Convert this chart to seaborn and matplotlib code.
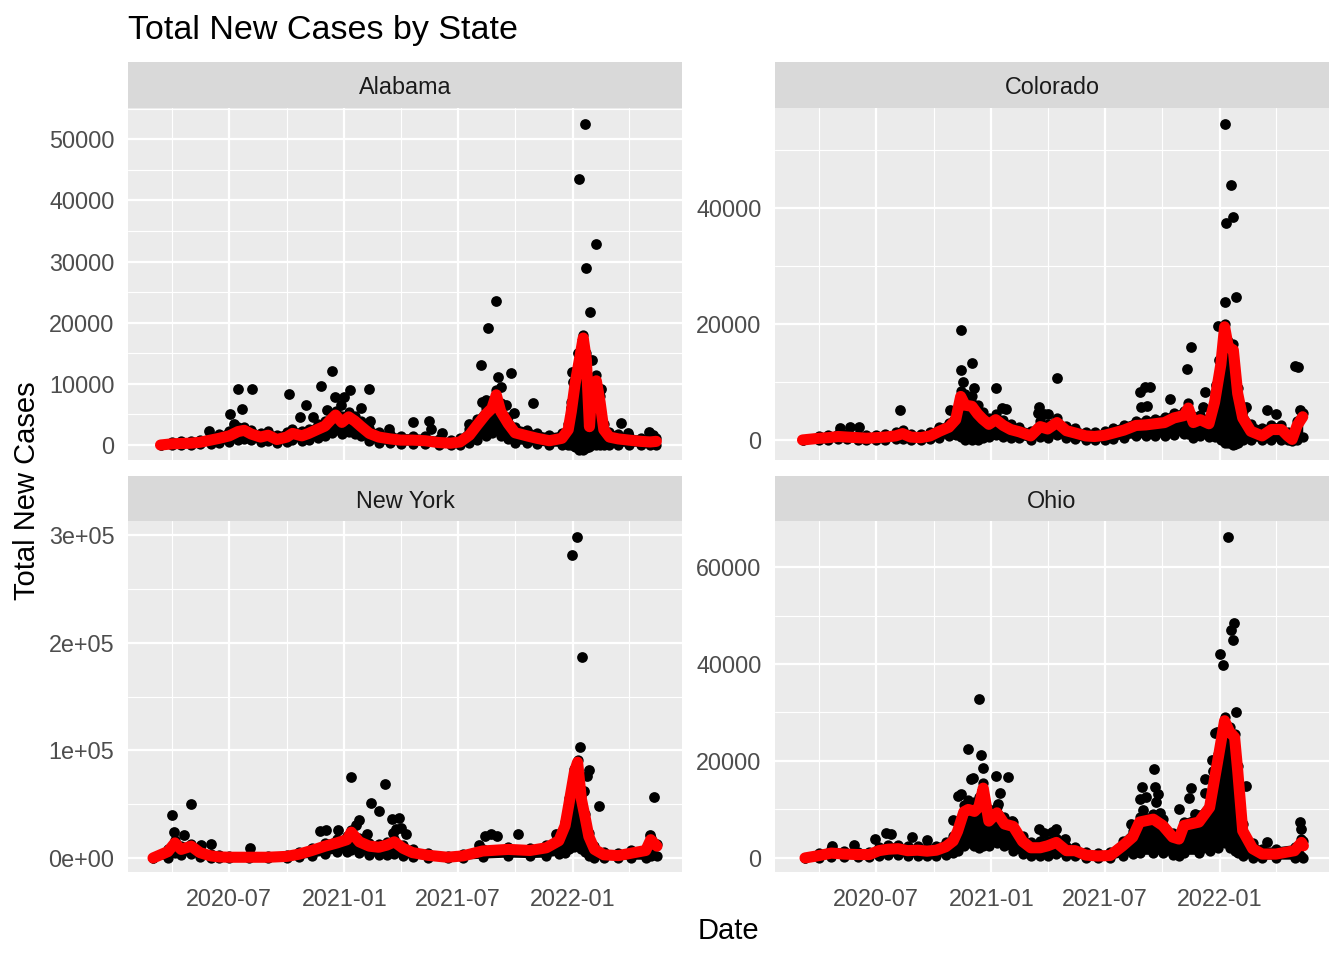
import numpy as np
import pandas as pd
import matplotlib
matplotlib.use("Agg")
import matplotlib.pyplot as plt
import matplotlib.dates as mdates
from matplotlib.ticker import FixedLocator, FixedFormatter
import seaborn as sns

# ---------------- data ----------------
# Alabama: smoothed (red) curve with the extent of the dense black cloud
al_dates = ["2020-03-13","2020-04-01","2020-04-15","2020-05-01","2020-05-15","2020-06-01","2020-06-15","2020-07-01","2020-07-15","2020-07-25",
            "2020-08-05","2020-08-20","2020-09-01","2020-09-15","2020-10-01","2020-10-10","2020-10-25","2020-11-05","2020-11-20","2020-12-01",
            "2020-12-12","2020-12-18","2020-12-28","2021-01-08","2021-01-18","2021-01-28","2021-02-10","2021-02-25","2021-03-15","2021-04-01",
            "2021-04-20","2021-05-10","2021-06-01","2021-06-20","2021-07-05","2021-07-20","2021-08-01","2021-08-15","2021-08-25","2021-09-01",
            "2021-09-08","2021-09-20","2021-10-01","2021-10-20","2021-11-05","2021-11-25","2021-12-15","2021-12-25","2021-12-30","2022-01-05",
            "2022-01-12","2022-01-18","2022-01-23","2022-01-28","2022-02-01","2022-02-08","2022-02-14","2022-02-20","2022-03-01","2022-03-15",
            "2022-04-01","2022-04-20","2022-05-05","2022-05-15"]
al_red = [0,200,250,300,450,800,1100,1500,2200,2400, 1800,1300,1600,900,1300,1900,1500,1900,2600,3100,
          4300,4900,3700,4600,3900,3000,1900,1300,1000,800, 800,700,400,300,500,1600,3200,5000,6000,8200,
          5500,3500,2000,1500,1100,700,1100,2500,5500,10000, 14000,17500,14000,3000,9500,10500,7000,2500,1300,1000,
          800,600,500,600]
al_lo = [0,0,0,0,100,200,300,500,900,1000, 800,500,600,300,500,800,700,800,1200,1500,
         2000,2500,1800,2200,1800,1400,700,400,300,200, 200,100,0,0,0,400,900,1500,2000,2500,
         1500,1000,400,300,200,0,0,0,0,-300, -800,-800,-500,-300,0,0,0,0,0,0,
         0,0,0,0]
al_hi = [0,500,600,700,900,1500,1800,2300,3000,3000, 2500,2000,2300,1700,2200,2600,2300,2700,3400,4000,
         5000,5600,4800,5400,4800,3900,2800,2100,1800,1500, 1500,1400,1000,800,1100,2600,4200,6000,7000,9000,
         6800,4600,3000,2500,2000,1600,1900,3500,7000,11500, 15000,18000,15000,3500,11000,11500,8000,3500,2200,1800,
         1500,1200,1200,1200]
al_out_dates = ["2020-05-30","2020-07-02","2020-07-08","2020-07-15","2020-07-21","2020-08-07","2020-10-04","2020-10-22","2020-10-31","2020-11-12",
                "2020-11-25","2020-12-04","2020-12-13","2020-12-17","2020-12-27","2021-01-01","2021-01-10","2021-01-27","2021-02-10","2021-02-11",
                "2021-03-14","2021-04-21","2021-05-16","2021-05-19","2021-06-06","2021-07-20","2021-08-07","2021-08-09","2021-08-16","2021-08-18",
                "2021-09-01","2021-09-03","2021-09-08","2021-09-17","2021-09-24","2021-09-29","2021-10-30","2021-12-29","2021-12-31","2022-01-02",
                "2022-01-09","2022-01-11","2022-01-21","2022-01-23","2022-01-29","2022-02-01","2022-02-08","2022-02-15","2022-03-20","2022-03-31",
                "2022-05-03","2022-05-10"]
al_out_vals = [2300,5000,3400,9200,5900,9200,8400,4500,6600,4500,
               9700,5800,12100,7900,6500,7900,9000,6000,9200,4000,
               2700,3700,4000,2700,1900,3500,13100,7000,7400,19100,
               23600,11200,9500,6600,11800,5300,6900,6000,12000,10300,
               15100,43500,52500,29000,21800,13900,32800,9100,3600,1900,
               2100,1700]

# Colorado
co_dates = ["2020-03-05","2020-04-01","2020-04-15","2020-05-01","2020-05-15","2020-06-01","2020-06-15","2020-07-01","2020-07-15","2020-08-01",
            "2020-08-12","2020-08-25","2020-09-10","2020-09-25","2020-10-10","2020-10-25","2020-11-05","2020-11-13","2020-11-20","2020-12-01",
            "2020-12-10","2020-12-18","2020-12-28","2021-01-08","2021-01-20","2021-02-01","2021-02-15","2021-03-05","2021-03-20","2021-04-01",
            "2021-04-16","2021-05-01","2021-05-15","2021-06-01","2021-06-15","2021-07-01","2021-07-15","2021-08-01","2021-08-20","2021-09-05",
            "2021-09-20","2021-10-05","2021-10-20","2021-11-05","2021-11-12","2021-11-20","2021-12-01","2021-12-15","2021-12-24","2022-01-03",
            "2022-01-09","2022-01-15","2022-01-23","2022-01-30","2022-02-07","2022-02-20","2022-03-10","2022-03-25","2022-04-10","2022-04-20",
            "2022-04-27","2022-05-05","2022-05-14"]
co_red = [0,300,400,600,500,400,300,400,500,700, 1100,500,400,700,1500,2200,3500,7500,6000,5800,
          4500,3600,2700,3500,2500,1800,1400,700,2300,1900, 3000,1600,1200,700,600,800,1200,1700,2500,2600,
          2800,3000,3800,4200,5500,3000,3500,2800,6500,13000, 19500,16000,15500,8000,3800,1500,700,1800,1800,700,
          100,2500,4000]
co_lo = [0,0,0,100,100,0,0,0,0,100, 200,0,0,100,400,600,800,500,0,0,
         0,300,500,800,500,400,300,0,500,300, 800,300,200,0,0,0,200,400,600,600,
         700,700,900,1000,1000,300,700,500,500,0, -500,-500,-800,-500,0,0,0,0,0,0,
         -200,0,500]
co_hi = [0,700,800,1100,1000,900,800,900,1000,1300, 1700,1100,1000,1400,2200,3000,4800,8500,8000,7500,
         6000,4800,3800,4500,3500,2700,2200,1500,3200,2800, 3800,2400,2000,1400,1300,1500,2000,2600,3300,3500,
         3700,4000,4600,5000,6300,4200,4300,3800,7500,14000, 20000,17000,16500,9000,5000,2800,2000,2600,2600,1300,
         700,3200,4600]
co_out_dates = ["2020-05-04","2020-05-20","2020-06-04","2020-08-08","2020-10-27","2020-11-13","2020-11-14","2020-11-17","2020-12-01","2020-12-04",
                "2021-01-08","2021-01-18","2021-01-24","2021-03-17","2021-03-18","2021-03-27","2021-04-02","2021-04-16","2021-08-27","2021-08-28",
                "2021-09-03","2021-09-07","2021-09-11","2021-10-14","2021-11-10","2021-11-17","2021-12-05","2021-12-09","2021-12-27","2021-12-30",
                "2021-12-31","2022-01-09","2022-01-10","2022-01-11","2022-01-19","2022-01-22","2022-01-27","2022-02-12","2022-03-18","2022-04-02",
                "2022-05-02","2022-05-07","2022-05-10","2022-01-26"]
co_out_vals = [2000,2300,2200,5100,5200,18900,12100,10000,13300,8900,
               8900,5500,5300,4700,5700,4400,4400,10600,8200,5700,
               9200,5800,9200,7000,12300,16000,5700,8200,9500,19600,
               13700,23700,54400,37300,44000,38400,24700,5700,5200,4400,
               12700,12500,5100,-750]

# New York
ny_dates = ["2020-03-01","2020-03-25","2020-04-05","2020-04-15","2020-05-01","2020-05-15","2020-06-01","2020-06-15","2020-07-01","2020-08-01",
            "2020-09-01","2020-10-01","2020-10-20","2020-11-10","2020-12-01","2020-12-20","2021-01-05","2021-01-12","2021-01-25","2021-02-10",
            "2021-02-25","2021-03-10","2021-03-22","2021-04-05","2021-04-20","2021-05-15","2021-06-15","2021-07-10","2021-08-10","2021-09-20",
            "2021-10-25","2021-11-20","2021-12-10","2021-12-20","2021-12-27","2022-01-04","2022-01-09","2022-01-15","2022-01-21","2022-01-27",
            "2022-02-05","2022-02-20","2022-03-15","2022-04-05","2022-04-28","2022-05-06","2022-05-16"]
ny_red = [0,6000,14000,8000,11000,5000,2000,1000,700,700,
          700,1500,3500,7000,11000,14000,17000,24000,15000,11000,
          10000,12000,15000,9000,5000,2500,700,2000,6500,8000,
          7000,9500,16000,30000,53000,80000,89000,55000,38000,20000,
          8000,3000,2200,4500,7000,17000,11000]
ny_lo = [0,0,5000,3000,4000,1000,0,0,0,0,
         0,0,500,2000,4000,6000,6000,7000,5000,3000,
         3000,3000,4000,2000,1000,0,0,0,1000,2000,
         1500,2000,4000,5000,8000,10000,12000,8000,6000,2000,
         0,0,0,0,0,2000,2000]
ny_hi = [0,8000,17000,11000,13000,7000,4000,2500,2000,2000,
         2000,3000,5500,9000,14000,18000,20000,26000,19000,14000,
         13000,15000,18000,12000,8000,4500,2000,3500,8500,10000,
         9000,12000,19000,33000,56000,83000,91000,58000,41000,23000,
         11000,5500,4500,7000,9500,19000,13000]
ny_out_dates = ["2020-03-31","2020-04-04","2020-04-19","2020-05-01","2020-05-17","2020-06-01","2020-08-03","2020-11-23","2020-12-03","2020-12-22",
                "2021-01-11","2021-01-19","2021-01-24","2021-02-07","2021-02-12","2021-02-26","2021-03-07","2021-03-18","2021-03-20","2021-03-25",
                "2021-03-29","2021-04-02","2021-04-09","2021-08-05","2021-08-14","2021-08-24","2021-09-02","2021-10-06","2021-12-05","2021-12-31",
                "2022-01-08","2022-01-13","2022-01-16","2022-01-19","2022-01-24","2022-01-28","2022-02-12","2022-05-05","2022-05-11"]
ny_out_vals = [40000,24000,21000,50000,12000,13000,9300,25000,26000,26000,
               75000,31000,35000,22000,51000,44000,69000,36000,23000,27000,
               37000,28000,22000,12000,20000,22000,20000,22000,22000,281000,
               298000,103000,187000,62000,76000,82000,48000,21000,57000]

# Ohio
oh_dates = ["2020-03-09","2020-04-01","2020-04-20","2020-05-10","2020-06-01","2020-06-20","2020-07-05","2020-07-20","2020-08-05","2020-08-20",
            "2020-09-05","2020-09-20","2020-10-05","2020-10-20","2020-11-01","2020-11-08","2020-11-18","2020-11-25","2020-12-05","2020-12-12",
            "2020-12-19","2020-12-28","2021-01-10","2021-01-22","2021-02-05","2021-02-20","2021-03-05","2021-03-20","2021-04-01","2021-04-15",
            "2021-05-01","2021-05-15","2021-06-01","2021-06-20","2021-07-10","2021-07-30","2021-08-15","2021-08-26","2021-09-17","2021-10-02",
            "2021-10-18","2021-10-28","2021-11-05","2021-11-29","2021-12-16","2021-12-29","2022-01-09","2022-01-17","2022-01-25","2022-01-30",
            "2022-02-07","2022-02-23","2022-03-10","2022-04-01","2022-05-01","2022-05-12","2022-05-15"]
oh_red = [0,500,1000,800,700,700,1500,1800,1900,1500,
          1600,1400,1600,2300,3500,5500,9500,10000,9600,10500,
          14400,7600,9300,7000,6500,3400,2100,2100,2500,3200,
          1500,1500,600,400,500,2500,4300,7400,8000,6700,
          4300,3900,6700,7400,10400,20000,28300,26000,24900,18000,
          5600,1900,800,800,1500,3200,2500]
oh_lo = [0,0,200,200,200,200,500,600,600,500,
         500,400,500,700,1000,1500,2500,3000,2500,2000,
         2500,2500,3000,2500,1500,900,500,500,500,800,
         300,300,0,0,0,500,800,1000,1000,1000,
         700,500,1000,1000,1500,2000,3000,2000,1500,1000,
         500,0,0,0,0,500,0]
oh_hi = [0,1000,1800,1500,1300,1300,2300,2700,2700,2400,
         2400,2200,2500,3200,4500,7000,11000,12000,11500,12500,
         15500,10000,10500,8500,7500,4500,3200,3500,3500,4200,
         2500,2300,1300,1000,1200,3500,5500,8500,9000,8000,
         5200,5000,7500,8800,11500,21500,29000,27000,25500,19000,
         7000,3000,1800,1800,2300,4000,3500]
oh_out_dates = ["2020-04-21","2020-05-27","2020-06-29","2020-07-17","2020-07-25","2020-08-27","2020-09-20","2020-10-31","2020-11-08","2020-11-14",
                "2020-11-24","2020-11-30","2020-12-03","2020-12-13","2020-12-15","2020-12-19","2021-01-09","2021-01-12","2021-01-15","2021-01-27",
                "2021-02-03","2021-03-18","2021-03-27","2021-04-08","2021-04-15","2021-04-28","2021-08-12","2021-08-27","2021-08-30","2021-08-31",
                "2021-09-05","2021-09-18","2021-09-20","2021-09-22","2021-09-24","2021-09-28","2021-10-28","2021-11-13","2021-11-17","2021-11-22",
                "2021-12-08","2021-12-09","2021-12-20","2021-12-22","2021-12-24","2021-12-28","2022-01-01","2022-01-06","2022-01-14","2022-01-20",
                "2022-01-23","2022-01-24","2022-01-28","2022-02-12","2022-03-18","2022-05-09","2022-05-12"]
oh_out_vals = [2400,2700,3900,5200,5000,4300,3800,7800,12800,13200,
               22500,16300,16500,32800,21200,18500,17000,11100,13400,16700,
               7600,6000,5200,5300,6000,3900,7100,12200,14600,9800,
               12500,18300,14600,11500,13100,9200,10100,12300,14400,9100,
               13300,16300,20200,18000,25700,25900,42000,39800,66100,47000,
               44900,48400,30000,14800,3200,7400,6000]

states = ["Alabama", "Colorado", "New York", "Ohio"]
x_major = ["2020-07-01", "2021-01-01", "2021-07-01", "2022-01-01"]
x_minor = ["2020-04-01", "2020-10-01", "2021-04-01", "2021-10-01", "2022-04-01"]
y_major = {"Alabama": [0, 10000, 20000, 30000, 40000, 50000],
           "Colorado": [0, 20000, 40000],
           "New York": [0, 100000, 200000, 300000],
           "Ohio": [0, 20000, 40000, 60000]}
y_labels = {"Alabama": ["0", "10000", "20000", "30000", "40000", "50000"],
            "Colorado": ["0", "20000", "40000"],
            "New York": ["0e+00", "1e+05", "2e+05", "3e+05"],
            "Ohio": ["0", "20000", "40000", "60000"]}

# ---------------- tables ----------------
curve = {
    "Alabama": pd.DataFrame({"date": pd.to_datetime(al_dates), "red": al_red, "lo": al_lo, "hi": al_hi}),
    "Colorado": pd.DataFrame({"date": pd.to_datetime(co_dates), "red": co_red, "lo": co_lo, "hi": co_hi}),
    "New York": pd.DataFrame({"date": pd.to_datetime(ny_dates), "red": ny_red, "lo": ny_lo, "hi": ny_hi}),
    "Ohio": pd.DataFrame({"date": pd.to_datetime(oh_dates), "red": oh_red, "lo": oh_lo, "hi": oh_hi}),
}
outl = {
    "Alabama": pd.DataFrame({"date": pd.to_datetime(al_out_dates), "cases": al_out_vals}),
    "Colorado": pd.DataFrame({"date": pd.to_datetime(co_out_dates), "cases": co_out_vals}),
    "New York": pd.DataFrame({"date": pd.to_datetime(ny_out_dates), "cases": ny_out_vals}),
    "Ohio": pd.DataFrame({"date": pd.to_datetime(oh_out_dates), "cases": oh_out_vals}),
}

# ---------------- layout / style ----------------
sns.set_style("white")
plt.rcParams['font.family'] = ['Liberation Sans', 'DejaVu Sans']

W, H = 1344, 960
fig = plt.figure(figsize=(W / 100, H / 100), dpi=100)
fig.patch.set_facecolor("white")

def box(x0, x1, ytop, ybot):
    return [x0 / W, 1 - ybot / H, (x1 - x0) / W, (ybot - ytop) / H]

geom = {
    "Alabama": (128, 682, 62, 108, 460, (-2450, 55100), False),
    "Colorado": (775, 1329, 62, 108, 460, (-3450, 57200), False),
    "New York": (128, 682, 476, 521, 872, (-13000, 313000), True),
    "Ohio": (775, 1329, 476, 521, 872, (-2900, 69500), True),
}
xlim = (mdates.date2num(pd.Timestamp("2020-01-21")), mdates.date2num(pd.Timestamp("2022-06-25")))

for st in states:
    x0, x1, stop, ptop, pbot, ylim, show_x = geom[st]
    ax = fig.add_axes(box(x0, x1, ptop, pbot))
    ax.set_facecolor("#EBEBEB")
    for s in ax.spines.values():
        s.set_visible(False)
    ax.set_axisbelow(True)

    c = curve[st]
    o = outl[st]
    # dense cloud of daily points around the smoothed curve
    ax.fill_between(c["date"], c["lo"], c["hi"], color="black", lw=0, zorder=2)
    sns.lineplot(x=c["date"], y=c["lo"], color="black", lw=2.5, estimator=None, ax=ax,
                 solid_capstyle="round", solid_joinstyle="round", zorder=2)
    sns.lineplot(x=c["date"], y=c["hi"], color="black", lw=2.5, estimator=None, ax=ax,
                 solid_capstyle="round", solid_joinstyle="round", zorder=2)
    sns.scatterplot(x=c["date"], y=c["hi"], color="black", s=55, linewidth=0, ax=ax, zorder=2)
    sns.scatterplot(x=c["date"], y=c["lo"], color="black", s=55, linewidth=0, ax=ax, zorder=2)
    # scattered daily points
    sns.scatterplot(x=o["date"], y=o["cases"], color="black", s=60, linewidth=0, ax=ax, zorder=3)
    # smoothed curve
    sns.lineplot(x=c["date"], y=c["red"], color="#FF0000", lw=8, estimator=None, ax=ax,
                 solid_capstyle="round", solid_joinstyle="round", zorder=4)

    ax.set_xlim(*xlim)
    ax.set_ylim(*ylim)

    ym = y_major[st]
    step = ym[1] - ym[0]
    yminor = [v + step / 2 for v in [ym[0] - step] + ym if ylim[0] < v + step / 2 < ylim[1]]
    ax.yaxis.set_major_locator(FixedLocator(ym))
    ax.yaxis.set_major_formatter(FixedFormatter(y_labels[st]))
    ax.yaxis.set_minor_locator(FixedLocator(yminor))
    ax.xaxis.set_major_locator(FixedLocator(mdates.date2num(pd.to_datetime(x_major))))
    ax.xaxis.set_minor_locator(FixedLocator(mdates.date2num(pd.to_datetime(x_minor))))
    ax.xaxis.set_major_formatter(mdates.DateFormatter("%Y-%m"))

    ax.grid(which="major", color="white", lw=1.6)
    ax.grid(which="minor", color="white", lw=0.8)
    ax.tick_params(which="major", length=5.6, width=1.0, color="#333333",
                   labelsize=16.8, labelcolor="#4D4D4D", pad=4.2)
    ax.tick_params(axis="x", which="major", pad=6)
    ax.tick_params(which="minor", length=0)
    if not show_x:
        ax.tick_params(axis="x", which="both", length=0, labelbottom=False)
    ax.set_xlabel("")
    ax.set_ylabel("")

    sax = fig.add_axes(box(x0, x1, stop, ptop))
    sax.set_facecolor("#D9D9D9")
    sax.set_xticks([])
    sax.set_yticks([])
    for s in sax.spines.values():
        s.set_visible(False)
    sax.text(0.5, 0.44, st, ha="center", va="center", fontsize=16.8, color="#1A1A1A",
             transform=sax.transAxes)

fig.text(128 / W, 1 - 31 / H, "Total New Cases by State", ha="left", va="center", fontsize=24.5, color="black")
fig.text(728 / W, 1 - 931 / H, "Date", ha="center", va="center", fontsize=21, color="black")
fig.text(27 / W, 1 - 491 / H, "Total New Cases", ha="center", va="center", rotation=90, fontsize=21, color="black")

fig.savefig("out.png", dpi=100)
